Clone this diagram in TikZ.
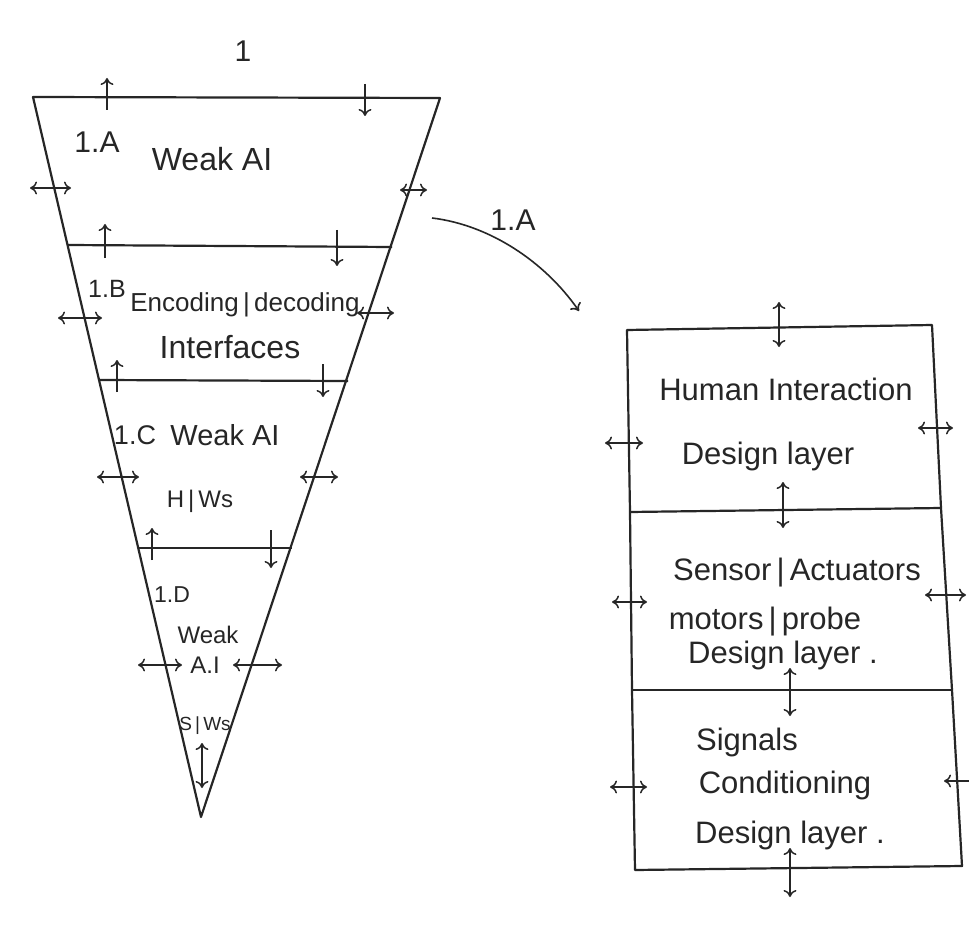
\documentclass[tikz,border=0pt]{standalone}
\usepackage{fontspec}
\setmainfont{Liberation Sans}
\usetikzlibrary{arrows.meta}
\begin{document}
\begin{tikzpicture}[x=1pt,y=-1pt,
  frame/.style={line width=2.2pt, draw=black!85, line join=round},
  darr/.style={{To[length=7pt,width=13pt]}-{To[length=7pt,width=13pt]}, line width=1.5pt, draw=black!85},
  sarr/.style={-{To[length=7pt,width=13pt]}, line width=1.5pt, draw=black!85},
  lbl/.style={font=\fontsize{30}{32}\selectfont, text=black!85, inner sep=0pt, anchor=base},
  blbl/.style={font=\fontsize{31}{33}\selectfont, text=black!85, inner sep=0pt, anchor=base},
  slbl/.style={font=\fontsize{23}{25}\selectfont, text=black!85, inner sep=0pt, anchor=base}]
\useasboundingbox (0,0) rectangle (969,944);
\fill[white] (0,0) rectangle (969,944);

% ---- inverted triangle ----
\coordinate (TL) at (33,97);
\coordinate (TR) at (440,98);
\coordinate (AP) at (201,817);
\draw[frame] (TL) -- (TR) -- (AP) -- cycle;
\coordinate (L1) at (68,245);  \coordinate (R1) at (392,247);
\coordinate (L2) at (100,380); \coordinate (R2) at (348,381);
\coordinate (L3) at (139,548); \coordinate (R3) at (292,548);
\draw[frame] (L1) -- (R1);
\draw[frame] (L2) -- (R2);
\draw[frame] (L3) -- (R3);

% vertical arrows on the layer lines
\draw[sarr] (107,110) -- (107,78);
\draw[sarr] (365,84) -- (365,116);
\draw[sarr] (105,258) -- (105,224);
\draw[sarr] (337,230) -- (337,266);
\draw[sarr] (117,392) -- (117,360);
\draw[sarr] (323,364) -- (323,397);
\draw[sarr] (152,560) -- (152,528);
\draw[sarr] (271,530) -- (271,568);
% side double arrows
\draw[darr] (30,188) -- (71,188);
\draw[darr] (400,190) -- (427,190);
\draw[darr] (58,318) -- (102,318);
\draw[darr] (357,313) -- (394,313);
\draw[darr] (97,477) -- (139,477);
\draw[darr] (300,477) -- (338,477);
\draw[darr] (138,665) -- (182,665);
\draw[darr] (233,665) -- (282,665);
\draw[darr] (202,743) -- (202,788);

% texts in triangle
\node[lbl] (n1) at (243,62) {1};
\node[lbl] (t1a) at (97,153) {1.A};
\node[lbl, font=\fontsize{32}{34}\selectfont] (t1aw) at (212,171) {Weak AI};
\node[lbl, font=\fontsize{25}{27}\selectfont] (t1b) at (107,297) {1.B};
\node[lbl, font=\fontsize{26}{28}\selectfont] (t1bt) at (245,311) {Encoding\,|\,decoding};
\node[lbl, font=\fontsize{32}{34}\selectfont] (t1bi) at (230,358) {Interfaces};
\node[lbl, font=\fontsize{27}{29}\selectfont] (t1c) at (135,444) {1.C};
\node[lbl, font=\fontsize{29}{31}\selectfont] (t1cw) at (225,445) {Weak AI};
\node[lbl, font=\fontsize{24}{26}\selectfont] (t1ch) at (200,507) {H\,|\,Ws};
\node[slbl] (t1d) at (172,602) {1.D};
\node[slbl, font=\fontsize{24}{26}\selectfont] (t1dw) at (208,643) {Weak};
\node[slbl, font=\fontsize{24}{26}\selectfont] (t1da) at (205,673) {A.I};
\node[slbl, font=\fontsize{19}{21}\selectfont] (t1ds) at (205,730) {S\,|\,Ws};

% ---- curved arrow ----
\coordinate (cs) at (432,218);
\coordinate (ce) at (579,311);
\draw[sarr, line width=1.6pt] (cs) .. controls (490,225) and (545,262) .. (ce);
\node[lbl] (c1a) at (513,230) {1.A};

% ---- right stacked box ----
\coordinate (BTL) at (627,330); \coordinate (BTR) at (932,325);
\coordinate (BM1L) at (630,512); \coordinate (BM1R) at (941,508);
\coordinate (BM2L) at (632,690); \coordinate (BM2R) at (952,690);
\coordinate (BBL) at (635,870); \coordinate (BBR) at (962,866);
\draw[frame] (BTL) -- (BTR) -- (BM1R) -- (BM2R) -- (BBR) -- (BBL) -- (BM2L) -- (BM1L) -- cycle;
\draw[frame] (BM1L) -- (BM1R);
\draw[frame] (BM2L) -- (BM2R);

\draw[darr] (779,302) -- (779,347);
\draw[darr] (783,482) -- (783,528);
\draw[darr] (790,668) -- (790,716);
\draw[darr] (790,848) -- (790,897);
\draw[darr] (605,443) -- (643,443);
\draw[darr] (918,428) -- (953,428);
\draw[darr] (612,602) -- (647,602);
\draw[darr] (925,595) -- (966,595);
\draw[darr] (610,787) -- (647,787);
\draw[darr] (944,781) -- (980,781);

\node[blbl] (h1) at (786,400) {Human Interaction};
\node[blbl] (h2) at (768,464) {Design layer};
\node[blbl] (s1) at (797,580) {Sensor\,|\,Actuators};
\node[blbl] (s2) at (765,629) {motors\,|\,probe};
\node[blbl] (s3) at (783,663) {Design layer .};
\node[blbl] (g1) at (747,750) {Signals};
\node[blbl] (g2) at (785,793) {Conditioning};
\node[blbl] (g3) at (790,843) {Design layer .};
\end{tikzpicture}
\end{document}
